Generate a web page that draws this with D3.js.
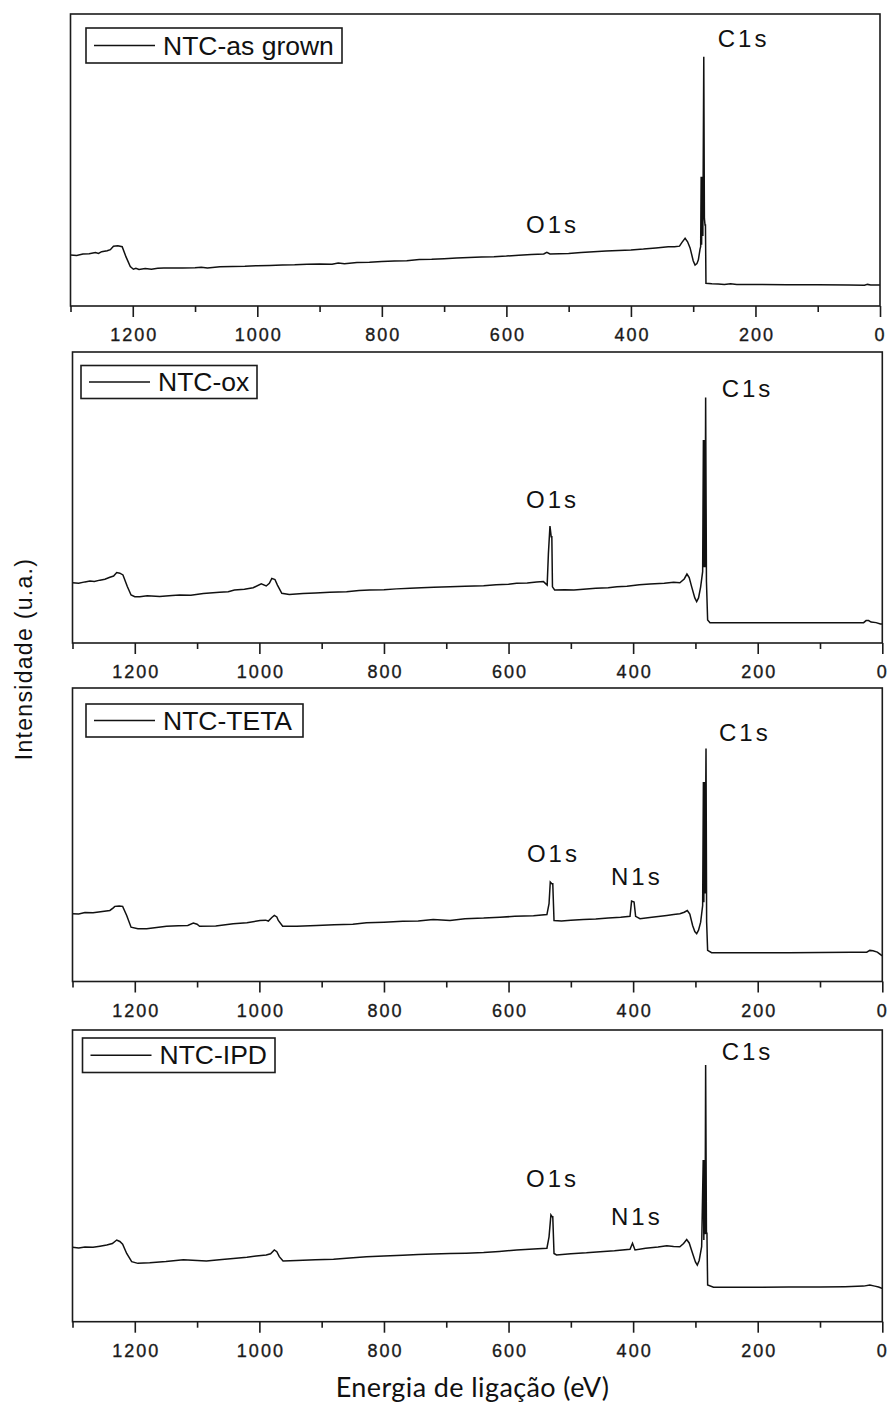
<!DOCTYPE html>
<html>
<head>
<meta charset="utf-8">
<script src="https://cdn.jsdelivr.net/npm/d3@7"></script>
<style>
  html, body { margin: 0; padding: 0; background: #fff; }
  svg { display: block; }
</style>
</head>
<body>
<svg id="chart" width="889" height="1405"></svg>
<script>
// ---------------- DATA ----------------
const seriesNames = ["NTC-as grown", "NTC-ox", "NTC-TETA", "NTC-IPD"];

// Binding energy (eV) vs intensity (a.u., 0-100 per panel)
const spectrumAsGrown = [
  [1300,17.5],[1290,17.3],[1280,17.8],[1270,17.9],[1260,18.3],[1255,18.0],[1250,18.6],[1241,18.9],[1236,19.3],
  [1231,20.5],[1224,20.6],[1217,20.3],[1211,16.9],[1204,13.5],[1199,12.6],[1195,12.9],[1190,12.5],[1180,12.8],
  [1170,12.6],[1160,12.9],[1150,13.0],[1120,13.0],[1100,13.1],[1090,13.3],[1080,13.0],[1060,13.4],[1040,13.5],
  [1020,13.6],[1000,13.8],[980,13.9],[960,14.0],[940,14.1],[920,14.3],[900,14.4],[880,14.3],[870,14.7],[860,14.5],
  [840,14.9],[820,15.0],[800,15.2],[780,15.4],[760,15.5],[740,15.9],[720,16.0],[700,16.2],[680,16.4],[660,16.6],
  [640,16.8],[620,16.9],[600,17.1],[580,17.4],[560,17.6],[540,17.8],[535,18.4],[530,17.8],[500,18.0],[480,18.3],
  [460,18.6],[440,18.8],[420,19.0],[400,19.2],[380,19.5],[360,19.9],[340,20.3],[330,20.3],[322,20.5],[318,21.8],
  [313,23.2],[309,22.0],[305,19.9],[300,15.5],[297,14.0],[294,14.5],[291.7,15.8],[289,19.5],[288,20.3],[287.2,44.3],
  [286.5,21],[285.5,44.3],[284.5,24],[283,85.4],[282,30],[281,27.7],[280.3,27.7],[279.5,7.8],[270,7.6],[260,7.5],
  [250,7.4],[240,7.6],[230,7.4],[200,7.4],[150,7.3],[100,7.3],[50,7.2],[25,7.1],[20,7.4],[15,7.2],[0,7.2]
];

const spectrumOx = [
  [1300,20.7],[1290,20.5],[1280,21.0],[1272,21.3],[1265,21.1],[1256,21.6],[1248,21.9],[1240,22.6],[1234,23.0],
  [1229,24.2],[1224,24.0],[1219,23.4],[1212,19.4],[1206,16.5],[1200,15.9],[1192,15.9],[1180,16.2],[1160,16.0],
  [1140,16.3],[1128,16.5],[1110,16.4],[1090,17.0],[1064,17.4],[1050,17.6],[1040,18.2],[1024,18.5],[1010,19.0],
  [997,20.3],[989,19.6],[984,20.5],[980,22.2],[975,21.8],[971,19.9],[964,17.1],[952,16.7],[930,17.0],[910,17.2],
  [887,17.4],[860,17.6],[840,18.0],[823,18.2],[800,18.3],[780,18.6],[758,18.8],[740,19.0],[720,19.2],[694,19.3],
  [670,19.5],[640,19.7],[620,20.0],[600,20.2],[587,20.5],[570,20.6],[555,21.0],[544,21.1],[538,19.9],[536,30.8],
  [533.5,40.2],[531.5,36.5],[530.5,36.5],[529.5,19.3],[526,18.2],[510,18.3],[495,18.2],[480,18.5],[460,18.8],
  [440,19.0],[426,19.3],[410,19.5],[390,20.0],[373,20.3],[350,20.5],[335,20.9],[325,20.7],[318,22.0],[313.6,23.7],
  [310,22.5],[306,19.3],[301,15.5],[298,14.2],[295,15.5],[291.6,19.3],[288.4,24.5],[287.2,69.8],[286.5,26],
  [285.5,69.8],[284.5,26],[283.6,84.4],[282.3,21.1],[280.4,7.9],[276.6,7.0],[250,7.0],[200,7.0],[150,7.0],
  [100,7.0],[50,7.0],[30,7.0],[26,7.7],[22,7.7],[18,7.2],[10,7.0],[3,6.5],[0,6.5]
];

const spectrumTeta = [
  [1300,23.1],[1290,23.0],[1280,23.5],[1267,23.4],[1255,23.8],[1240,24.2],[1235,25.0],[1232,25.6],[1225,25.7],
  [1219.5,25.6],[1213,22.5],[1206,18.5],[1195,18.0],[1181,18.0],[1165,18.4],[1149,18.8],[1130,19.0],[1115,19.1],
  [1106,19.9],[1100,19.5],[1096,18.8],[1070,18.9],[1042,19.7],[1020,20.0],[999,20.8],[990,20.9],[985.6,20.6],
  [980,21.8],[976,22.5],[972,22.0],[969.6,20.8],[962.6,18.8],[940,18.8],[908,19.1],[880,19.3],[850,19.5],
  [828,20.0],[800,20.2],[770,20.5],[745,20.6],[721,21.1],[694,20.8],[670,21.4],[640,21.6],[614,21.9],[590,22.2],
  [560,22.4],[538.4,22.8],[535,26.5],[533,33.9],[530.5,33.3],[529,33.3],[527,20.8],[515,20.6],[500,20.9],
  [480,21.1],[460,21.3],[440,21.6],[420,21.9],[405,22.2],[402.5,27.4],[398.5,27.1],[396,22.2],[389,21.4],
  [370,21.9],[346,22.5],[335,22.8],[325,23.1],[318,23.6],[313,24.2],[309,23.0],[304.5,19.1],[301,17.0],[298,16.3],
  [295,17.5],[291.6,20.2],[288.4,25.9],[287.2,68],[286.5,27],[285.5,68],[284.5,30],[283,79.4],[282,20.2],
  [280.4,10.6],[274,9.8],[250,9.8],[200,9.8],[150,9.8],[100,9.9],[50,10.0],[25,10.0],[20,10.6],[15,10.5],
  [8,10.0],[1,8.9],[0,8.9]
];

const spectrumIpd = [
  [1300,25.5],[1290,25.3],[1280,25.6],[1267,25.5],[1256,25.9],[1245,26.3],[1236,26.8],[1229,28.0],[1224,27.5],
  [1219.5,26.6],[1213,23.4],[1205,20.6],[1195,20.0],[1176,20.2],[1150,20.6],[1122,21.2],[1100,21.0],[1085,20.8],
  [1060,21.3],[1042,21.7],[1020,22.1],[1005,22.5],[989,22.9],[982,23.3],[976,24.6],[972,24.0],[968,22.3],
  [962,20.8],[940,21.0],[910,21.2],[881,21.4],[855,21.8],[828,22.3],[800,22.5],[770,22.8],[745,23.0],[721,23.2],
  [694,23.4],[668,23.5],[640,23.7],[615,24.1],[587,24.6],[560,24.9],[538.4,25.2],[535,29.1],[532,36.6],[530,36.0],
  [529,36.0],[527,23.4],[523,22.9],[500,23.3],[475,23.6],[453,24.0],[430,24.3],[405,24.8],[401,26.9],[397,24.6],
  [380,25.2],[360,25.6],[346,26.0],[335,25.8],[325,25.7],[319,26.8],[314,28.2],[310,27.0],[304.5,23.4],[300,20.5],
  [297,19.4],[294,21.0],[290,25.7],[287.5,55.4],[286.5,28],[285.5,55.4],[284.5,30],[283.6,88],[282.3,30.3],
  [281.5,30.3],[280.4,12.6],[271,11.8],[250,11.8],[200,11.8],[150,11.9],[100,11.9],[60,12.0],[30,12.2],[20,12.6],
  [12,12.2],[6,11.9],[1,11.5],[0,11.5]
];

// Peak annotations: [label, energy at label's left edge, intensity at baseline]
const peaksAsGrown = [["C1s", 260.6, 88.7], ["O1s", 568.4, 25.0]];
const peaksOx      = [["C1s", 257.9, 84.6], ["O1s", 572.0, 46.4]];
const peaksTeta    = [["C1s", 262.2, 82.0], ["O1s", 570.5, 40.6], ["N1s", 435.6, 32.8]];
const peaksIpd     = [["C1s", 257.9, 89.7], ["O1s", 572.0, 46.3], ["N1s", 435.6, 33.2]];

const majorTicks = [1200, 1000, 800, 600, 400, 200, 0];
const minorTicks = [1300, 1100, 900, 700, 500, 300, 100];
const energyDomain = [1300, 0];
const intensityDomain = [0, 100];

const xTitle = "Energia de ligação (eV)";
const yTitle = "Intensidade (u.a.)";

// ---------------- LAYOUT ----------------
const panels = [
  { name: seriesNames[0], data: spectrumAsGrown, peaks: peaksAsGrown,
    left: 70.5, right: 880, top: 14, bottom: 306, legend: { x: 86, y: 28, w: 256, h: 35 } },
  { name: seriesNames[1], data: spectrumOx, peaks: peaksOx,
    left: 72.5, right: 882.3, top: 352, bottom: 643, legend: { x: 81, y: 365.5, w: 176, h: 33 } },
  { name: seriesNames[2], data: spectrumTeta, peaks: peaksTeta,
    left: 72.5, right: 882.3, top: 688, bottom: 981.5, legend: { x: 86, y: 704, w: 217, h: 33 } },
  { name: seriesNames[3], data: spectrumIpd, peaks: peaksIpd,
    left: 72.5, right: 882.3, top: 1030, bottom: 1321.7, legend: { x: 82.5, y: 1038, w: 192.5, h: 34.5 } }
];

const svg = d3.select("#chart");
const ink = "#1b1b1b";

panels.forEach(p => {
  const x = d3.scaleLinear().domain(energyDomain).range([p.left, p.right]);
  const y = d3.scaleLinear().domain(intensityDomain).range([p.bottom, p.top]);
  const g = svg.append("g");

  // spectrum line
  const line = d3.line().x(d => x(d[0])).y(d => y(d[1]));
  g.append("path")
    .datum(p.data)
    .attr("d", line)
    .attr("fill", "none")
    .attr("stroke", "#111")
    .attr("stroke-width", 1.5)
    .attr("stroke-linejoin", "miter");

  // frame
  g.append("rect")
    .attr("x", p.left).attr("y", p.top)
    .attr("width", p.right - p.left).attr("height", p.bottom - p.top)
    .attr("fill", "none").attr("stroke", ink).attr("stroke-width", 1.6);

  // minor ticks
  const minorAxis = g.append("g")
    .attr("transform", `translate(0,${p.bottom})`)
    .call(d3.axisBottom(x).tickValues(minorTicks).tickSize(6).tickFormat(""));
  minorAxis.select(".domain").remove();
  minorAxis.selectAll("line").attr("stroke", ink).attr("stroke-width", 1.6);

  // major ticks + labels
  const majorAxis = g.append("g")
    .attr("transform", `translate(0,${p.bottom})`)
    .call(d3.axisBottom(x).tickValues(majorTicks).tickSize(11).tickFormat(d3.format("d")));
  majorAxis.select(".domain").remove();
  majorAxis.selectAll("line").attr("stroke", ink).attr("stroke-width", 1.6);
  majorAxis.selectAll("text")
    .attr("y", 35).attr("dy", null)
    .attr("dx", d => d === 0 ? -1 : 1)
    .attr("fill", "#1a1a1a")
    .attr("stroke", "#1a1a1a")
    .attr("stroke-width", 0.35)
    .style("font-family", "'Liberation Sans', Arial, sans-serif")
    .style("font-size", "18px")
    .style("letter-spacing", d => d === 0 ? "0px" : "2px");

  // peak labels
  g.selectAll("text.peak")
    .data(p.peaks)
    .enter().append("text")
    .attr("class", "peak")
    .attr("x", d => x(d[1]))
    .attr("y", d => y(d[2]))
    .attr("fill", "#111")
    .style("font-family", "'Liberation Sans', Arial, sans-serif")
    .style("font-size", "24px")
    .style("letter-spacing", "3px")
    .text(d => d[0]);

  // legend
  const L = p.legend;
  g.append("rect")
    .attr("x", L.x).attr("y", L.y).attr("width", L.w).attr("height", L.h)
    .attr("fill", "#fff").attr("stroke", ink).attr("stroke-width", 1.6);
  g.append("line")
    .attr("x1", L.x + 8).attr("x2", L.x + 69)
    .attr("y1", L.y + L.h / 2).attr("y2", L.y + L.h / 2)
    .attr("stroke", "#111").attr("stroke-width", 1.5);
  g.append("text")
    .attr("x", L.x + 77)
    .attr("y", L.y + L.h / 2 + 9)
    .attr("fill", "#111")
    .style("font-family", "'Liberation Sans', Arial, sans-serif")
    .style("font-size", "26.5px")
    .text(p.name);
});

// axis titles
svg.append("text")
  .attr("x", 472.5).attr("y", 1397)
  .attr("text-anchor", "middle")
  .attr("fill", "#111")
  .style("font-family", "Lato, 'Open Sans', sans-serif")
  .style("font-size", "27px")
  .style("letter-spacing", "0.4px")
  .text(xTitle);

svg.append("text")
  .attr("transform", "translate(31.5,659) rotate(-90)")
  .attr("text-anchor", "middle")
  .attr("fill", "#111")
  .style("font-family", "'Liberation Sans', Arial, sans-serif")
  .style("font-size", "23px")
  .style("letter-spacing", "1.3px")
  .text(yTitle);
</script>
</body>
</html>
